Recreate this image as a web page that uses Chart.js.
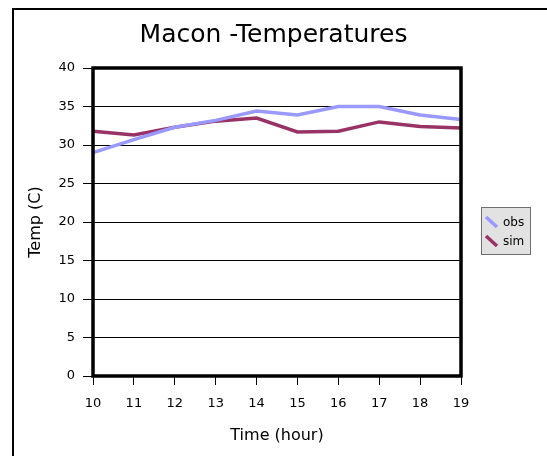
<!DOCTYPE html>
<html>
<head>
<meta charset="utf-8">
<script src="https://cdn.jsdelivr.net/npm/chart.js@4"></script>
<style>
  html, body { margin: 0; padding: 0; background: #fff; }
  #wrap { position: relative; width: 547px; height: 456px; }
</style>
</head>
<body>
<div id="wrap"><canvas id="tempChart" width="547" height="456"></canvas></div>
<script>
const hours = ['10', '11', '12', '13', '14', '15', '16', '17', '18', '19'];
const obsTemps = [29.0, 30.7, 32.3, 33.2, 34.4, 33.9, 35.0, 35.0, 33.9, 33.3];
const simTemps = [31.8, 31.3, 32.3, 33.1, 33.5, 31.7, 31.8, 33.0, 32.4, 32.2];
const yTicks = [0, 5, 10, 15, 20, 25, 30, 35, 40];

const FONT = 'DejaVu Sans';

// outer frame, thick plot border and the little legend box
const frame = {
    id: 'frame',
    afterDraw(chart) {
        const ctx = chart.ctx;
        const a = chart.chartArea;
        ctx.save();
        ctx.strokeStyle = '#000';
        ctx.lineWidth = 2;
        ctx.beginPath();
        ctx.moveTo(13, 460);
        ctx.lineTo(13, 9);
        ctx.lineTo(550, 9);
        ctx.stroke();

        ctx.lineWidth = 3.5;
        ctx.strokeRect(a.left, a.top, a.right - a.left, a.bottom - a.top);

        // legend
        ctx.fillStyle = '#e2e2e2';
        ctx.fillRect(481.5, 207.5, 49, 47);
        ctx.lineWidth = 1;
        ctx.strokeStyle = '#6e6e6e';
        ctx.strokeRect(481.5, 207.5, 49, 47);
        ctx.font = '12px ' + FONT;
        ctx.textBaseline = 'middle';
        ctx.lineCap = 'butt';
        chart.data.datasets.forEach((ds, i) => {
            const y = 222 + i * 19;
            ctx.strokeStyle = ds.borderColor;
            ctx.lineWidth = 3.5;
            ctx.beginPath();
            ctx.moveTo(486, y - 5);
            ctx.lineTo(497, y + 5);
            ctx.stroke();
            ctx.fillStyle = '#000';
            ctx.fillText(ds.label, 503, y + 1);
        });
        ctx.restore();
    }
};

const ctx = document.getElementById('tempChart').getContext('2d');
const myChart = new Chart(ctx, {
    type: 'line',
    data: {
        labels: hours,
        datasets: [{
            label: 'obs',
            data: obsTemps,
            borderColor: '#9999ff',
            borderWidth: 3.5,
            pointRadius: 0,
            tension: 0
        }, {
            label: 'sim',
            data: simTemps,
            borderColor: '#993366',
            borderWidth: 3.5,
            pointRadius: 0,
            tension: 0
        }]
    },
    options: {
        responsive: false,
        animation: false,
        layout: {
            padding: { left: 0, right: 0, top: 8, bottom: 0 }
        },
        plugins: {
            legend: { display: false },
            tooltip: { enabled: false },
            title: {
                display: true,
                text: 'Macon -Temperatures',
                color: '#000',
                font: { family: FONT, size: 25, weight: 'normal', lineHeight: 1.2 },
                padding: { top: 12, bottom: 18 }
            }
        },
        scales: {
            x: {
                offset: false,
                afterFit(scale) { scale.height = 80; },
                grid: {
                    drawOnChartArea: false,
                    drawTicks: true,
                    tickLength: 9,
                    color: '#000'
                },
                border: { display: false },
                ticks: {
                    color: '#000',
                    padding: 11,
                    maxRotation: 0,
                    font: { family: FONT, size: 13 }
                },
                title: {
                    display: true,
                    text: 'Time (hour)',
                    color: '#000',
                    font: { family: FONT, size: 16, lineHeight: 1.2 },
                    padding: { top: 0, bottom: 11 }
                }
            },
            y: {
                min: 0,
                max: 40,
                afterFit(scale) { scale.width = 93; },
                afterBuildTicks(scale) { scale.ticks = yTicks.map(v => ({ value: v })); },
                grid: {
                    color: '#000',
                    lineWidth: 1,
                    tickLength: 10
                },
                border: { display: false },
                ticks: {
                    color: '#000',
                    padding: 8,
                    font: { family: FONT, size: 13 }
                },
                title: {
                    display: true,
                    text: 'Temp (C)',
                    color: '#000',
                    font: { family: FONT, size: 16, lineHeight: 1.2 },
                    padding: { top: 26, bottom: 0 }
                }
            },
            // empty strip on the right that holds the legend
            side: {
                type: 'linear',
                position: 'right',
                min: 0,
                max: 40,
                afterFit(scale) { scale.width = 86; },
                grid: { display: false },
                border: { display: false },
                ticks: { display: false }
            }
        }
    },
    plugins: [frame]
});
</script>
</body>
</html>
